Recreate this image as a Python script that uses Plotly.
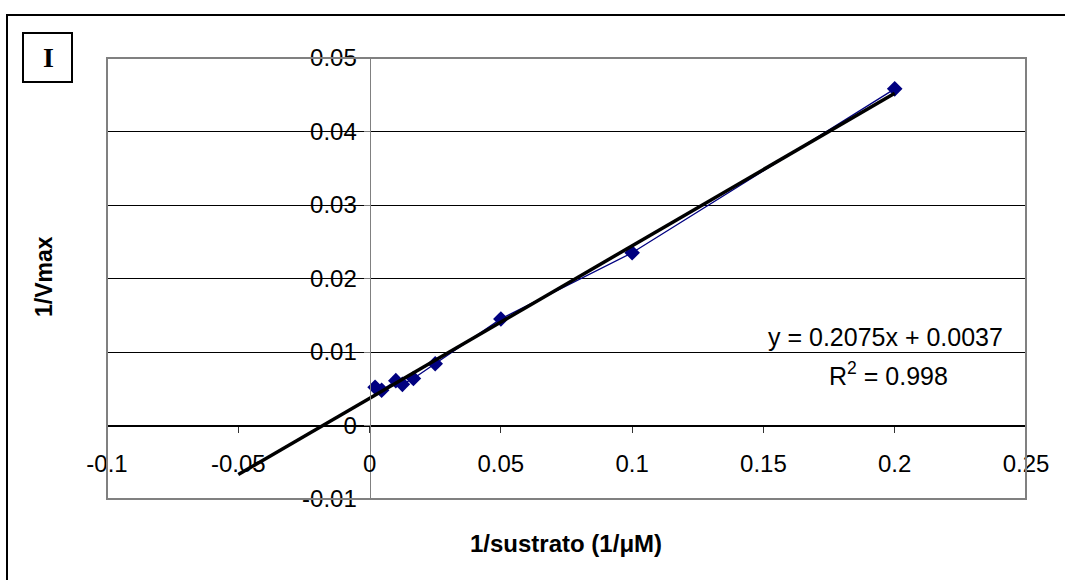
import plotly.graph_objects as go

# Lineweaver-Burk data: 1/[S] (1/uM) against 1/V
inv_substrate = [0.0021, 0.0046, 0.01, 0.0125, 0.0167, 0.025, 0.05, 0.1, 0.2]
inv_velocity = [0.0052, 0.0048, 0.0061, 0.0056, 0.0064, 0.0084, 0.0145, 0.0235, 0.0458]

# linear trendline reported on the chart
slope = 0.2075
intercept = 0.0037
r_squared = 0.998
trend_x = [-0.05, 0.2]

x_ticks = [-0.1, -0.05, 0, 0.05, 0.1, 0.15, 0.2, 0.25]
x_tick_text = ["-0.1", "-0.05", "0", "0.05", "0.1", "0.15", "0.2", "0.25"]
y_ticks = [-0.01, 0, 0.01, 0.02, 0.03, 0.04, 0.05]
y_tick_text = ["-0.01", "0", "0.01", "0.02", "0.03", "0.04", "0.05"]

W, H = 1065, 580
ML, MR, MT, MB = 107, 39, 58, 81
PW, PH = W - ML - MR, H - MT - MB


def px_x(px):
    return (px - ML) / PW


def px_y(py):
    return (H - MB - py) / PH


FONT = "Liberation Sans, Arial, sans-serif"
XR = [-0.1, 0.25]
YR = [-0.01, 0.05]

fig = go.Figure()

fig.add_trace(go.Scatter(
    x=inv_substrate, y=inv_velocity, mode="lines+markers",
    line=dict(color="#000080", width=1.3),
    marker=dict(symbol="diamond", size=12, color="#000080"),
    showlegend=False,
))

fig.add_trace(go.Scatter(
    x=trend_x, y=[slope * v + intercept for v in trend_x], mode="lines",
    line=dict(color="black", width=3.5),
    showlegend=False,
))

fig.update_layout(
    width=W, height=H,
    margin=dict(l=ML, r=MR, t=MT, b=MB),
    paper_bgcolor="white", plot_bgcolor="white",
    font=dict(family=FONT, size=24, color="black"),
    xaxis=dict(
        range=XR, tickvals=x_ticks, ticktext=x_tick_text,
        showgrid=False, zeroline=False,
        anchor="free", position=(0 - YR[0]) / (YR[1] - YR[0]),
        showline=True, linecolor="black", linewidth=1,
        ticks="outside", ticklen=6, tickcolor="#333333", tickwidth=1,
        ticklabelstandoff=11,
        tickfont=dict(size=24),
    ),
    yaxis=dict(
        range=YR, tickvals=y_ticks, ticktext=y_tick_text,
        showgrid=True, gridcolor="black", gridwidth=1, zeroline=False,
        anchor="free", position=(0 - XR[0]) / (XR[1] - XR[0]),
        showline=True, linecolor="#808080", linewidth=1,
        ticks="outside", ticklen=6, tickcolor="#808080", tickwidth=1,
        ticklabelstandoff=2,
        tickfont=dict(size=24),
    ),
    shapes=[
        # plot area border
        dict(type="rect", xref="paper", yref="paper", x0=0, y0=0, x1=1, y1=1,
             line=dict(color="#808080", width=2), layer="above"),
        # chart area border
        dict(type="rect", xref="paper", yref="paper",
             x0=px_x(7), y0=px_y(600), x1=px_x(1090), y1=px_y(15),
             line=dict(color="black", width=2)),
        # panel label box
        dict(type="rect", xref="paper", yref="paper",
             x0=px_x(23), y0=px_y(82), x1=px_x(72), y1=px_y(33),
             line=dict(color="black", width=2)),
    ],
    annotations=[
        dict(text="<b>I</b>", xref="paper", yref="paper", x=px_x(48), y=px_y(57),
             showarrow=False, xanchor="center", yanchor="middle",
             font=dict(family="Liberation Serif, Times New Roman, serif", size=28)),
        dict(text="<b>1/Vmax</b>", xref="paper", yref="paper",
             x=px_x(44), y=px_y(277), textangle=-90, showarrow=False,
             xanchor="center", yanchor="middle", font=dict(size=23)),
        dict(text="<b>1/sustrato (1/μM)</b>", xref="paper", yref="paper",
             x=px_x(566), y=px_y(543), showarrow=False,
             xanchor="center", yanchor="middle", font=dict(size=24)),
        dict(text=f"y = {slope}x + {intercept}", xref="paper", yref="paper",
             x=px_x(885), y=px_y(337), showarrow=False,
             xanchor="center", yanchor="middle", font=dict(size=25)),
        dict(text=f"R<sup>2</sup> = {r_squared}", xref="paper", yref="paper",
             x=px_x(888), y=px_y(374), showarrow=False,
             xanchor="center", yanchor="middle", font=dict(size=25)),
    ],
)

fig.write_html("out.html")
